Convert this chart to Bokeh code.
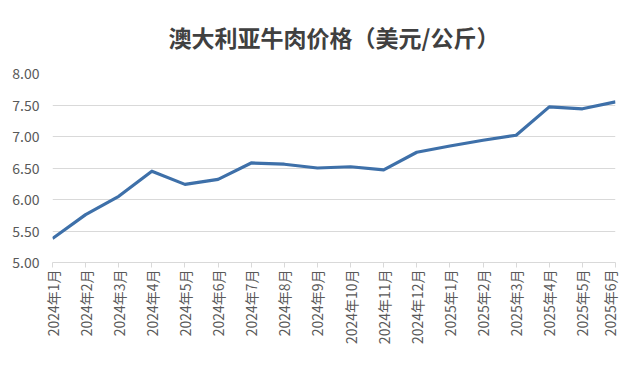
import math
from bokeh.plotting import figure
from bokeh.models import Range1d, FixedTicker, ColumnDataSource
from bokeh.embed import file_html
from bokeh.resources import INLINE

months = ["2024年1月", "2024年2月", "2024年3月", "2024年4月", "2024年5月", "2024年6月",
          "2024年7月", "2024年8月", "2024年9月", "2024年10月", "2024年11月", "2024年12月",
          "2025年1月", "2025年2月", "2025年3月", "2025年4月", "2025年5月", "2025年6月"]
prices = [5.38, 5.76, 6.05, 6.45, 6.24, 6.32, 6.58, 6.56, 6.50, 6.52, 6.47, 6.75,
          6.85, 6.94, 7.02, 7.47, 7.44, 7.55]
y_ticks = [5.0, 5.5, 6.0, 6.5, 7.0, 7.5, 8.0]
y_tick_labels = ["5.00", "5.50", "6.00", "6.50", "7.00", "7.50", "8.00"]
title_text = "澳大利亚牛肉价格（美元/公斤）"

FONT = "Noto Sans CJK SC"
LABEL_COLOR = "#595959"
GRID = "#d9d9d9"

src = ColumnDataSource(dict(x=list(range(len(months))), y=prices))

p = figure(width=619, height=352, output_backend="svg", toolbar_location=None,
           x_range=Range1d(0, len(months) - 1), y_range=Range1d(5, 8),
           min_border_left=52, min_border_right=4, min_border_top=66, min_border_bottom=90,
           title=title_text)

p.title.text_font = FONT
p.title.text_font_size = "23px"
p.title.text_font_style = "bold"
p.title.text_color = "#404040"
p.title.align = "center"
p.title.vertical_align = "middle"
p.title.offset = -26
p.title.standoff = 37

p.line("x", "y", source=src, line_color="#3E70A9", line_width=3.2, line_join="round")

p.outline_line_color = None
p.background_fill_color = "white"
p.border_fill_color = "white"

p.xgrid.grid_line_color = None
p.ygrid.grid_line_color = GRID
p.ygrid.grid_line_width = 1

p.xaxis.ticker = FixedTicker(ticks=list(range(len(months))))
p.xaxis.major_label_overrides = {i: m for i, m in enumerate(months)}
p.xaxis.major_label_orientation = math.pi / 2
p.xaxis.major_label_text_font = FONT
p.xaxis.major_label_text_font_size = "14px"
p.xaxis.major_label_text_color = LABEL_COLOR
p.xaxis.axis_line_color = GRID
p.xaxis.major_tick_line_color = GRID
p.xaxis.major_tick_out = 5
p.xaxis.major_tick_in = 0
p.xaxis.minor_tick_line_color = None
p.xaxis.major_label_standoff = 2

p.yaxis.ticker = FixedTicker(ticks=y_ticks)
p.yaxis.major_label_overrides = {t: l for t, l in zip(y_ticks, y_tick_labels)}
p.yaxis.major_label_text_font = FONT
p.yaxis.major_label_text_font_size = "14px"
p.yaxis.major_label_text_color = LABEL_COLOR
p.yaxis.axis_line_color = None
p.yaxis.major_tick_line_color = None
p.yaxis.minor_tick_line_color = None
p.yaxis.major_label_standoff = 7

open("out.html", "w").write(file_html(p, INLINE))
